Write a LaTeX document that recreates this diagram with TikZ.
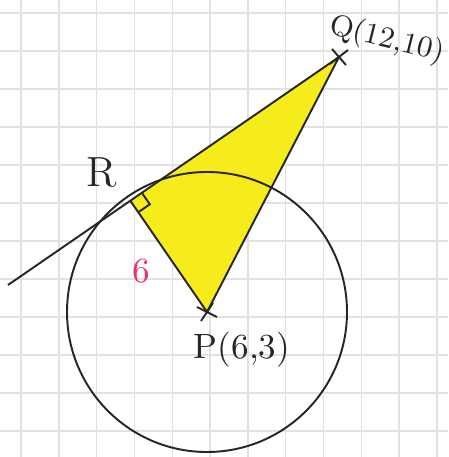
\documentclass[tikz,border=0pt]{standalone}
\usepackage{tikz}
\usetikzlibrary{calc}
\definecolor{gridx}{HTML}{E2E2E2}
\definecolor{yellowx}{HTML}{F6EC1C}
\definecolor{pinkx}{HTML}{E8336E}
\tikzset{
  pen/.style={line width=0.55pt,black!85},
  lbl/.style={font=\normalsize,inner sep=1pt,black!85}
}
\begin{document}
\begin{tikzpicture}[x=1mm,y=1mm]
\useasboundingbox (0,0) rectangle (44.8,45.7);
\def\r{14.0}
\foreach \i in {0,...,11} \draw[gridx,line width=0.4pt] (2.1+3.78*\i,0)--(2.1+3.78*\i,45.7);
\foreach \j in {0,...,11} \draw[gridx,line width=0.4pt] (0,44.4-3.8*\j)--(44.8,44.4-3.8*\j);
\coordinate (P) at (20.7,14.5);
\coordinate (Q) at (33.9,40.0);
\coordinate (T) at (0.8,17.2);
\coordinate (R) at ($(T)!(P)!(Q)$);
\fill[yellowx] (P)--(Q)--(R)--cycle;
\draw[pen] (P) circle (\r);
\draw[pen] (T)--(Q);
\draw[pen] (R)--(P)--(Q);
% right angle at R
\coordinate (ra) at ($(R)!1.4mm!(Q)$);
\coordinate (rb) at ($(R)!1.4mm!(P)$);
\draw[pen] (ra)--($(ra)+(rb)-(R)$)--(rb);
% crosses
\draw[pen] ($(Q)+(-0.9,-0.7)$)--($(Q)+(0.9,0.7)$) ($(Q)+(-0.7,0.8)$)--($(Q)+(0.7,-0.8)$);
\draw[pen] ($(P)+(-1.0,0.5)$)--($(P)+(1.0,-0.5)$) ($(P)+(-0.6,-0.9)$)--($(P)+(0.6,0.9)$);
\node[lbl,font=\large] (Rl) at (10.2,28.4) {R};
\node[lbl,font=\fontsize{8.5}{10}\selectfont,rotate=-14] (Ql) at (38.7,41.7) {Q(12,10)};
\node[lbl] (Pl) at (24.2,10.7) {P(6,3)};
\node[lbl,text=pinkx] (six) at (14.1,18.6) {6};
\end{tikzpicture}
\end{document}
